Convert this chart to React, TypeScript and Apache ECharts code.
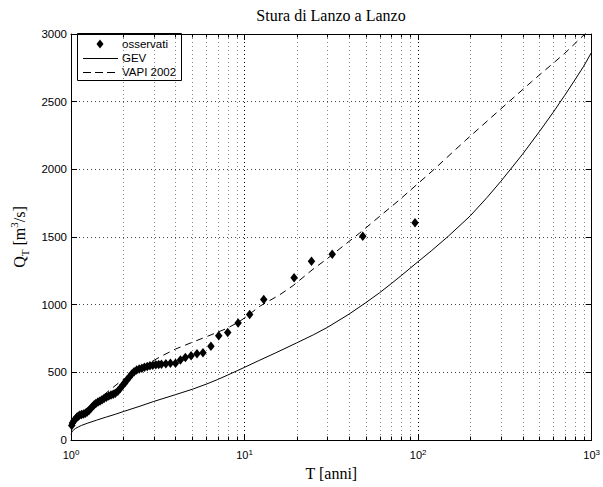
import React, { useEffect, useRef } from "react";
import * as echarts from "echarts";

const titleText = "Stura di Lanzo a Lanzo";
const xAxisName = "T [anni]";
const legendLabels = ["osservati", "GEV", "VAPI 2002"];
const minorTicks = [2, 3, 4, 5, 6, 7, 8, 9, 20, 30, 40, 50, 60, 70, 80, 90, 200, 300, 400, 500, 600, 700, 800, 900];

const obsT = [1.01, 1.02, 1.04, 1.06, 1.08, 1.10, 1.12, 1.15, 1.18, 1.21, 1.24, 1.27, 1.30, 1.33, 1.36, 1.39, 1.43, 1.47, 1.51, 1.55, 1.60, 1.65, 1.70, 1.75, 1.80, 1.86, 1.92, 1.98, 2.04, 2.10, 2.17, 2.24, 2.31, 2.39, 2.47, 2.56, 2.65, 2.75, 2.85, 2.96, 3.08, 3.20, 3.32, 3.52, 3.74, 4.0, 4.27, 4.56, 4.92, 5.32, 5.76, 6.4, 7.1, 8.0, 9.18, 10.7, 12.9, 19.3, 24.3, 32, 48, 96];
const obsQ = [108, 126, 143, 156, 168, 176, 183, 188, 193, 198, 206, 218, 233, 248, 260, 270, 280, 288, 298, 306, 316, 326, 333, 338, 346, 360, 380, 402, 422, 443, 466, 488, 505, 517, 524, 530, 537, 544, 549, 553, 556, 558, 560, 563, 567, 568, 592, 609, 622, 637, 645, 693, 770, 795, 864, 928, 1038, 1198, 1320, 1372, 1505, 1605];

const gevT = [1.002, 1.01, 1.03, 1.06, 1.1, 1.15, 1.25, 1.4, 1.6, 1.8, 2, 2.5, 3, 4, 5, 6, 7, 8, 10, 12, 15, 20, 25, 30, 40, 50, 60, 70, 80, 100, 120, 150, 200, 250, 300, 400, 500, 600, 700, 800, 900, 1000];
const gevQ = [40, 58, 72, 85, 96, 108, 125, 146, 170, 190, 210, 250, 285, 335, 375, 412, 447, 480, 537, 585, 642, 718, 778, 832, 930, 1015, 1088, 1155, 1215, 1318, 1401, 1508, 1657, 1793, 1912, 2112, 2279, 2421, 2547, 2660, 2762, 2866];

const vapiT = [1.005, 1.02, 1.05, 1.1, 1.235, 1.5, 1.92, 2.5, 3.28, 4, 5.09, 6.5, 7.92, 9.2, 10, 12.3, 15.9, 19, 24.8, 29.6, 45.8, 78, 120, 188, 291, 451, 701, 1000];
const vapiQ = [85, 125, 160, 190, 234, 320, 431, 530, 616, 672, 726, 780, 825, 870, 902, 990, 1072, 1140, 1262, 1335, 1527, 1774, 1985, 2215, 2432, 2648, 2858, 3048];

const SERIF = "'Liberation Serif', 'Times New Roman', serif";
const SANS = "'Liberation Sans', Arial, sans-serif";

export default function App() {
  const ref = useRef<HTMLDivElement>(null);
  useEffect(() => {
    if (!ref.current) return;
    const chart = echarts.init(ref.current, null, { renderer: "svg" });
    const axisLine = { show: true, onZero: false, lineStyle: { color: "#000", width: 1 } };
    const expLabel = (v: number) => `{b|10}{s|${Math.round(Math.log10(v))}}`;
    chart.setOption({
      animation: false,
      backgroundColor: "#fff",
      title: {
        text: titleText,
        left: 331,
        top: 7,
        textAlign: "center",
        padding: 0,
        textStyle: { fontFamily: SERIF, fontSize: 16, fontWeight: "normal", color: "#000" },
      },
      grid: { left: 71, right: 11, top: 34, bottom: 47, containLabel: false },
      xAxis: [
        {
          type: "log",
          logBase: 10,
          min: 1,
          max: 1000,
          position: "bottom",
          axisLine,
          axisTick: { show: true, inside: true, length: 6, lineStyle: { color: "#000" } },
          axisLabel: {
            show: true,
            margin: 8,
            showMinLabel: true,
            showMaxLabel: true,
            formatter: expLabel,
            rich: {
              b: { fontFamily: SANS, fontSize: 11, lineHeight: 14, color: "#000" },
              s: { fontFamily: SANS, fontSize: 8, lineHeight: 7, verticalAlign: "top", color: "#000" },
            },
          },
          splitLine: { show: true, lineStyle: { color: "#000", width: 1, type: [1, 3] } },
          name: xAxisName,
          nameLocation: "middle",
          nameGap: 24,
          nameTextStyle: { fontFamily: SERIF, fontSize: 16, color: "#000" },
        },
        {
          type: "log",
          logBase: 10,
          min: 1,
          max: 1000,
          position: "top",
          axisLine,
          axisTick: { show: true, inside: true, length: 6, lineStyle: { color: "#000" } },
          axisLabel: { show: false },
          splitLine: { show: false },
        },
      ],
      yAxis: [
        {
          type: "value",
          min: 0,
          max: 3000,
          interval: 500,
          position: "left",
          axisLine,
          axisTick: { show: true, inside: true, length: 6, lineStyle: { color: "#000" } },
          axisLabel: { margin: 4, fontFamily: SANS, fontSize: 11.5, color: "#000", formatter: (v: number) => String(v) },
          splitLine: { show: true, lineStyle: { color: "#444", width: 1, type: [1, 3] } },
          name: "{a|Q}{b|T}{a| [m}{c|3}{a|/s]}",
          nameLocation: "middle",
          nameRotate: 90,
          nameGap: 41,
          nameTextStyle: {
            color: "#000",
            rich: {
              a: { fontFamily: SERIF, fontSize: 16, lineHeight: 22, color: "#000" },
              b: { fontFamily: SERIF, fontSize: 11, lineHeight: 11, verticalAlign: "bottom", color: "#000" },
              c: { fontFamily: SERIF, fontSize: 11, lineHeight: 11, verticalAlign: "top", color: "#000" },
            },
          },
        },
        {
          type: "value",
          min: 0,
          max: 3000,
          interval: 500,
          position: "right",
          axisLine,
          axisTick: { show: true, inside: true, length: 6, lineStyle: { color: "#000" } },
          axisLabel: { show: false },
          splitLine: { show: false },
        },
      ],
      series: [
        {
          type: "custom",
          coordinateSystem: "cartesian2d",
          xAxisIndex: 0,
          yAxisIndex: 0,
          silent: true,
          z: 1,
          data: minorTicks.map((v) => [v, 0]),
          encode: { x: 0, y: 1 },
          renderItem: (params: any, api: any) => {
            const v = api.value(0);
            const b = api.coord([v, 0]);
            const t = api.coord([v, 3000]);
            const x = Math.round(b[0]) + 0.5;
            return {
              type: "group",
              children: [
                { type: "line", shape: { x1: x, y1: t[1], x2: x, y2: b[1] }, style: { stroke: "#888", lineWidth: 1, lineDash: [1, 3] } },
                { type: "line", shape: { x1: x, y1: b[1], x2: x, y2: b[1] - 3.5 }, style: { stroke: "#000", lineWidth: 1 } },
                { type: "line", shape: { x1: x, y1: t[1], x2: x, y2: t[1] + 3.5 }, style: { stroke: "#000", lineWidth: 1 } },
              ],
            };
          },
        },
        {
          name: legendLabels[1],
          type: "line",
          z: 3,
          data: gevT.map((t, i) => [t, gevQ[i]]),
          showSymbol: false,
          smooth: false,
          lineStyle: { color: "#000", width: 1 },
        },
        {
          name: legendLabels[2],
          type: "line",
          z: 3,
          data: vapiT.map((t, i) => [t, vapiQ[i]]),
          showSymbol: false,
          smooth: false,
          lineStyle: { color: "#000", width: 1, type: [7, 5] },
        },
        {
          name: legendLabels[0],
          type: "scatter",
          z: 4,
          data: obsT.map((t, i) => [t, obsQ[i]]),
          symbol: "diamond",
          symbolSize: [7.5, 9.5],
          itemStyle: { color: "#000", opacity: 1 },
        },
      ],
      graphic: [
        {
          type: "group",
          z: 100,
          children: [
            { type: "rect", shape: { x: 77.5, y: 33.5, width: 104, height: 47 }, style: { fill: "#fff", stroke: "#000", lineWidth: 1 } },
            { type: "polygon", shape: { points: [[100, 39.5], [103.5, 44], [100, 48.5], [96.5, 44]] }, style: { fill: "#000" } },
            { type: "line", shape: { x1: 83, y1: 58.5, x2: 118, y2: 58.5 }, style: { stroke: "#000", lineWidth: 1 } },
            { type: "line", shape: { x1: 83, y1: 72.5, x2: 119, y2: 72.5 }, style: { stroke: "#000", lineWidth: 1, lineDash: [8, 4] } },
            { type: "text", x: 122, y: 44, style: { text: legendLabels[0], fontFamily: SANS, fontSize: 11.5, fill: "#000", align: "left", verticalAlign: "middle" } },
            { type: "text", x: 122, y: 58, style: { text: legendLabels[1], fontFamily: SANS, fontSize: 11.5, fill: "#000", align: "left", verticalAlign: "middle" } },
            { type: "text", x: 122, y: 72, style: { text: legendLabels[2], fontFamily: SANS, fontSize: 11.5, fill: "#000", align: "left", verticalAlign: "middle" } },
          ],
        },
      ],
    });
    return () => chart.dispose();
  }, []);
  return (
    <div
      ref={ref}
      style={{ position: "fixed", left: 0, top: 0, width: 603, height: 487, background: "#fff" }}
    />
  );
}
